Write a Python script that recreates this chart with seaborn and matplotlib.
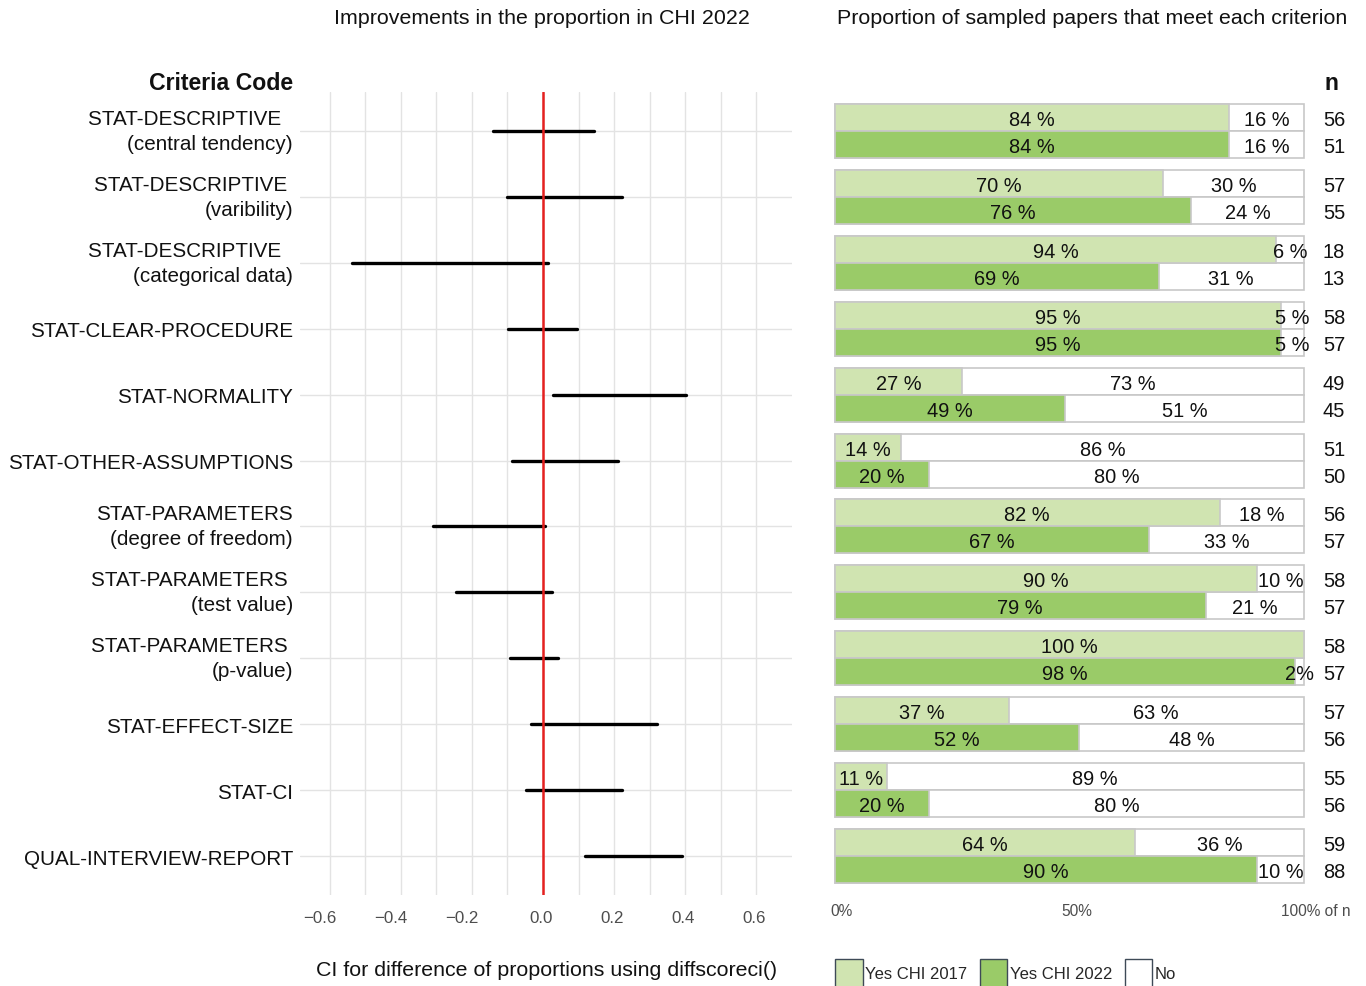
import numpy as np
import pandas as pd
import matplotlib
matplotlib.use("Agg")
import matplotlib.pyplot as plt
from matplotlib.patches import Patch
from matplotlib.transforms import ScaledTranslation
import seaborn as sns

# ---- data ---------------------------------------------------------------
criteria = [
    "STAT-DESCRIPTIVE  \n(central tendency)",
    "STAT-DESCRIPTIVE \n(varibility)",
    "STAT-DESCRIPTIVE  \n(categorical data)",
    "STAT-CLEAR-PROCEDURE",
    "STAT-NORMALITY",
    "STAT-OTHER-ASSUMPTIONS",
    "STAT-PARAMETERS\n(degree of freedom)",
    "STAT-PARAMETERS \n(test value)",
    "STAT-PARAMETERS \n(p-value)",
    "STAT-EFFECT-SIZE",
    "STAT-CI",
    "QUAL-INTERVIEW-REPORT",
]

# confidence interval for the difference of proportions (2022 - 2017)
ci_low = [-0.141, -0.101, -0.538, -0.099, 0.028, -0.087,
          -0.310, -0.245, -0.093, -0.034, -0.048, 0.118]
ci_high = [0.144, 0.223, 0.014, 0.096, 0.403, 0.211,
           0.006, 0.025, 0.042, 0.321, 0.223, 0.392]

# share of papers meeting each criterion (percent)
yes_2017 = [84, 70, 94, 95, 27, 14, 82, 90, 100, 37, 11, 64]
no_2017 = [16, 30, 6, 5, 73, 86, 18, 10, 0, 63, 89, 36]
yes_2022 = [84, 76, 69, 95, 49, 20, 67, 79, 98, 52, 20, 90]
no_2022 = [16, 24, 31, 5, 51, 80, 33, 21, 2, 48, 80, 10]

n_2017 = [56, 57, 18, 58, 49, 51, 56, 58, 58, 57, 55, 59]
n_2022 = [51, 55, 13, 57, 45, 50, 57, 57, 57, 56, 56, 88]

years = ["Yes CHI 2017", "Yes CHI 2022"]
legend_labels = ["Yes CHI 2017", "Yes CHI 2022", "No"]

ci_ticks = [-0.6, -0.4, -0.2, 0.0, 0.2, 0.4, 0.6]
ci_tick_labels = ["\u22120.6", "\u22120.4", "\u22120.2", "0.0", "0.2", "0.4", "0.6"]

# ---- styling ------------------------------------------------------------
sns.set_theme(style="white")
plt.rcParams["font.family"] = ["Liberation Sans", "DejaVu Sans"]

LIGHT = "#D0E4B1"
DARK = "#9ACB68"
EDGE = "#C8C8C8"
GRID = "#E3E3E3"
INK = "#111111"
TICK = "#4D4D4D"

W, H = 1366, 987
fig = plt.figure(figsize=(W / 100, H / 100), dpi=100)


def fx(px):
    return px / W


def fy(py):
    return 1 - py / H


def shift(artist, dx_px):
    artist.set_transform(artist.get_transform()
                         + ScaledTranslation(dx_px / 100, 0, fig.dpi_scale_trans))


rows = np.arange(len(criteria))
ylim = (len(criteria) - 1 + 0.59, -0.59)
TOP, BOTTOM = 93, 896

# ---- left panel: CI segments ---------------------------------------------
axL = fig.add_axes([fx(300), fy(BOTTOM), fx(792) - fx(300), fy(TOP) - fy(BOTTOM)])

ci_long = pd.DataFrame({
    "criterion": np.repeat(criteria, 2),
    "row": np.repeat(rows, 2),
    "value": np.ravel(np.column_stack([ci_low, ci_high])),
})

for x in np.arange(-0.6, 0.61, 0.1):
    axL.axvline(x, color=GRID, lw=1.0, zorder=0)
for r in rows:
    axL.axhline(r, color=GRID, lw=1.0, zorder=0)

sns.lineplot(data=ci_long, x="value", y="row", units="criterion",
             estimator=None, sort=False, color="black", lw=2.4,
             ax=axL, legend=False, zorder=3)
axL.axvline(0, color="#E5201F", lw=1.8, zorder=4)

axL.set_xlim(-0.684, 0.701)
axL.set_ylim(*ylim)
axL.set_xticks(ci_ticks)
axL.set_xticklabels(ci_tick_labels)
axL.set_yticks(rows)
axL.set_yticklabels(criteria, fontsize=14.85, color=INK, linespacing=1.4)
axL.tick_params(axis="x", length=0, pad=11, labelsize=12.2, labelcolor=TICK)
axL.tick_params(axis="y", length=0, pad=5)
for lbl in axL.get_yticklabels():
    if "\n" in lbl.get_text():
        lbl.set_va("center")
for val, lbl in zip(ci_ticks, axL.get_xticklabels()):
    shift(lbl, -10 if val < 0 else -2)
axL.set_xlabel("")
axL.set_ylabel("")
for s in axL.spines.values():
    s.set_visible(False)

# ---- right panel: stacked bars ---------------------------------------------
axR = fig.add_axes([fx(830), fy(BOTTOM), fx(1310) - fx(830), fy(TOP) - fy(BOTTOM)])

bars = pd.DataFrame({
    "criterion": criteria * 2,
    "year": np.repeat(years, len(criteria)),
    "yes": yes_2017 + yes_2022,
    "no": no_2017 + no_2022,
})
bars["total"] = bars["yes"] + bars["no"]

sns.barplot(data=bars, y="criterion", x="total", hue="year", hue_order=years,
            palette=["white", "white"], dodge=True, width=0.82, saturation=1,
            edgecolor=EDGE, linewidth=1.2, ax=axR, legend=False, orient="h")
sns.barplot(data=bars, y="criterion", x="yes", hue="year", hue_order=years,
            palette=[LIGHT, DARK], dodge=True, width=0.82, saturation=1,
            edgecolor=EDGE, linewidth=1.2, ax=axR, legend=False, orient="h")

pct_size = 14.4
offsets = [-0.205, 0.205]
for i in range(len(criteria)):
    for k, (yes, no, n) in enumerate([(yes_2017[i], no_2017[i], n_2017[i]),
                                      (yes_2022[i], no_2022[i], n_2022[i])]):
        y = i + offsets[k]
        axR.text(yes / 2, y, f"{yes} %", ha="center", va="center_baseline",
                 fontsize=pct_size, color=INK)
        if no > 0:
            lab = f"{no} %" if no >= 3 else f"{no}%"
            axR.text(yes + no / 2, y, lab, ha="center", va="center_baseline",
                     fontsize=pct_size, color=INK, clip_on=False)
        axR.text(106.4, y, f"{n}", ha="center", va="center_baseline",
                 fontsize=pct_size, color=INK, clip_on=False)

axR.set_xlim(-1.066, 101.28)
axR.set_ylim(*ylim)
axR.set_yticks([])
axR.set_xticks([0, 50])
axR.set_xticklabels(["0%", "50%"])
axR.tick_params(axis="x", length=0, pad=6, labelsize=11.2, labelcolor=TICK)
for lbl in axR.get_xticklabels():
    shift(lbl, 7)
axR.set_xlabel("")
axR.set_ylabel("")
for s in axR.spines.values():
    s.set_visible(False)
# last tick label carries the unit note and starts a little left of 100 %
axR.text(95.0, -8.3 / (BOTTOM - TOP), "100% of n",
         transform=axR.get_xaxis_transform(), ha="left", va="top",
         fontsize=11.2, color=TICK)

# ---- titles, headers, legend ------------------------------------------------
fig.text(fx(542), fy(18), "Improvements in the proportion in CHI 2022",
         ha="center", va="center", fontsize=15.4, color=INK)
fig.text(fx(1092), fy(18), "Proportion of sampled papers that meet each criterion",
         ha="center", va="center", fontsize=15.4, color=INK)
fig.text(fx(293), fy(84), "Criteria Code", ha="right", va="center",
         fontsize=16.6, fontweight="bold", color=INK)
fig.text(fx(1331), fy(84), "n", ha="center", va="center",
         fontsize=16.6, fontweight="bold", color=INK)
fig.text(fx(547), fy(971), "CI for difference of proportions using diffscoreci()",
         ha="center", va="center", fontsize=15.4, color=INK)

handles = [Patch(facecolor=c, edgecolor="#3E4A57", linewidth=1.0)
           for c in (LIGHT, DARK, "white")]
fig.legend(handles, legend_labels, loc="upper left",
           bbox_to_anchor=(fx(835), fy(960)), ncol=3, frameon=False,
           fontsize=12, handlelength=1.65, handleheight=2.2,
           handletextpad=0.15, columnspacing=0.75, borderpad=0, borderaxespad=0)

fig.savefig("out.png", dpi=100)
